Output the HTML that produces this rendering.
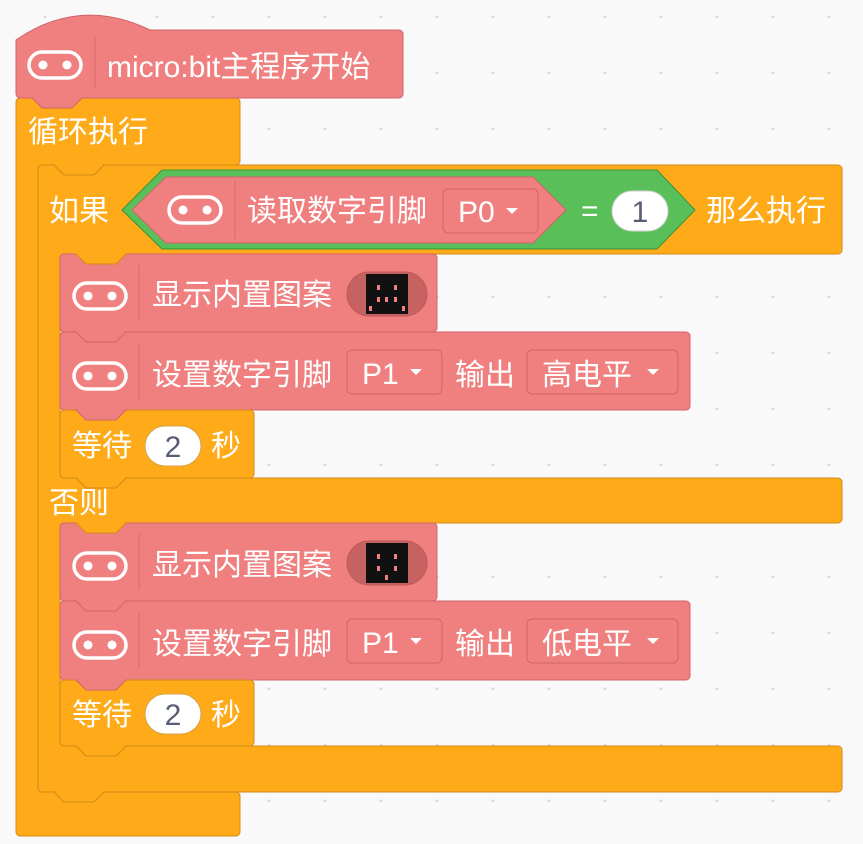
<!DOCTYPE html>
<html><head><meta charset="utf-8"><style>
html,body{margin:0;padding:0;}
body{width:863px;height:844px;overflow:hidden;background:#f9f9f9;
background-image:radial-gradient(circle,#d8d8d8 1.2px,transparent 1.6px);background-size:56px 56px;background-position:129px -11px;}
svg{position:absolute;left:0;top:0;}
text{font-family:"Liberation Sans","Noto Sans CJK SC",sans-serif;font-size:30px;fill:#fff;}
.n{fill:#575e75;font-size:30px;}
</style></head><body>
<svg width="863" height="844" viewBox="0 0 863 844">
<defs>
<g id="ico"><rect x="-26" y="-13" width="52" height="26" rx="13" fill="none" stroke="#fff" stroke-width="3.5"/><circle cx="-12" cy="0" r="4.5" fill="#fff"/><circle cx="12" cy="0" r="4.5" fill="#fff"/></g>
<g id="led"><rect x="-40" y="-22" width="80" height="44" rx="22" fill="#c76262" stroke="#c05a5a"/><rect x="-21" y="-20" width="42" height="40" fill="#111"/></g>
</defs>
<!-- forever -->
<path d="M20 98 H236 a4 4 0 0 1 4 4 V161 a4 4 0 0 1 -4 4 H42 a4 4 0 0 0 -4 4 V788 a4 4 0 0 0 4 4 H236 a4 4 0 0 1 4 4 V832 a4 4 0 0 1 -4 4 H20 a4 4 0 0 1 -4 -4 V102 a4 4 0 0 1 4 -4Z" fill="#ffab19" stroke="#cf8b17"/>
<text x="28" y="142">循环执行</text>
<!-- if -->
<path d="M42 165 H838 a4 4 0 0 1 4 4 V250 a4 4 0 0 1 -4 4 H64 a4 4 0 0 0 -4 4 V474 a4 4 0 0 0 4 4 H838 a4 4 0 0 1 4 4 V519 a4 4 0 0 1 -4 4 H64 a4 4 0 0 0 -4 4 V742 a4 4 0 0 0 4 4 H838 a4 4 0 0 1 4 4 V788 a4 4 0 0 1 -4 4 H42 a4 4 0 0 1 -4 -4 V169 a4 4 0 0 1 4 -4Z" fill="#ffab19" stroke="#cf8b17"/>
<text x="49" y="221">如果</text>
<text x="49" y="513">否则</text>
<text x="706" y="221">那么执行</text>
<!-- green hex -->
<path d="M122 210 L162 170 H657 L695 210 L657 249 H162Z" fill="#59c059" stroke="#389438"/>
<path d="M132 210 L166 177 H533 L566 210 L533 243 H166Z" fill="#f07f7f" stroke="#d0646a"/>
<use href="#ico" x="195" y="210"/><line x1="235" y1="181" x2="235" y2="239" stroke="#d96b6b"/>
<text x="247" y="221">读取数字引脚</text>
<rect x="443" y="189" width="95" height="44" rx="5" fill="#f07f7f" stroke="#d0646a"/>
<text x="458" y="222">P0</text><path d="M506 208 h12 l-6 6z" fill="#fff"/>
<text x="581" y="221">=</text>
<rect x="612" y="191" width="56" height="40" rx="20" fill="#fff" stroke="#d0d0d0"/>
<text class="n" x="640" y="222" text-anchor="middle">1</text>
<!-- hat -->
<path d="M16 40 Q80 -4 150 30 H399 a4 4 0 0 1 4 4 V94 a4 4 0 0 1 -4 4 H20 a4 4 0 0 1 -4 -4Z" fill="#f07f7f" stroke="#d0646a"/>
<use href="#ico" x="55" y="65"/><line x1="95" y1="37" x2="95" y2="88" stroke="#d96b6b"/>
<text x="107" y="77">micro:bit主程序开始</text>
<!-- display 1 -->
<rect x="60" y="254" width="377" height="78" rx="4" fill="#f07f7f" stroke="#d0646a"/>
<use href="#ico" x="100" y="296"/><line x1="139" y1="265" x2="139" y2="321" stroke="#d96b6b"/>
<text x="152" y="305">显示内置图案</text>
<use href="#led" x="387" y="294"/>
<g fill="#f07f7f"><rect x="377" y="285" width="3" height="5"/><rect x="394" y="285" width="3" height="5"/><rect x="377" y="297" width="3" height="5"/><rect x="385" y="297" width="3" height="5"/><rect x="394" y="297" width="3" height="5"/><rect x="369" y="306" width="3" height="5"/><rect x="402" y="306" width="3" height="5"/></g>
<!-- set 1 -->
<rect x="60" y="332" width="630" height="78" rx="4" fill="#f07f7f" stroke="#d0646a"/>
<use href="#ico" x="100" y="376"/><line x1="139" y1="344" x2="139" y2="400" stroke="#d96b6b"/>
<text x="152" y="385">设置数字引脚</text>
<rect x="347" y="350" width="95" height="44" rx="5" fill="#f07f7f" stroke="#d0646a"/>
<text x="362" y="384">P1</text><path d="M410 369 h12 l-6 6z" fill="#fff"/>
<text x="455" y="385">输出</text>
<rect x="527" y="350" width="151" height="44" rx="5" fill="#f07f7f" stroke="#d0646a"/>
<text x="542" y="385">高电平</text><path d="M647 369 h12 l-6 6z" fill="#fff"/>
<!-- wait 1 -->
<rect x="60" y="410" width="194" height="68" rx="4" fill="#ffab19" stroke="#cf8b17"/>
<text x="72" y="456">等待</text>
<rect x="145" y="426" width="56" height="40" rx="20" fill="#fff" stroke="#d9a04a"/>
<text class="n" x="173" y="457" text-anchor="middle">2</text>
<text x="211" y="456">秒</text>
<!-- display 2 -->
<rect x="60" y="523" width="377" height="78" rx="4" fill="#f07f7f" stroke="#d0646a"/>
<use href="#ico" x="100" y="566"/><line x1="139" y1="534" x2="139" y2="590" stroke="#d96b6b"/>
<text x="152" y="575">显示内置图案</text>
<use href="#led" x="387" y="563"/>
<g fill="#f07f7f"><rect x="377" y="554" width="3" height="5"/><rect x="394" y="554" width="3" height="5"/><rect x="377" y="566" width="3" height="5"/><rect x="394" y="566" width="3" height="5"/><rect x="385" y="575" width="3" height="5"/></g>
<!-- set 2 -->
<rect x="60" y="601" width="630" height="79" rx="4" fill="#f07f7f" stroke="#d0646a"/>
<use href="#ico" x="100" y="645"/><line x1="139" y1="613" x2="139" y2="669" stroke="#d96b6b"/>
<text x="152" y="654">设置数字引脚</text>
<rect x="347" y="619" width="95" height="44" rx="5" fill="#f07f7f" stroke="#d0646a"/>
<text x="362" y="653">P1</text><path d="M410 638 h12 l-6 6z" fill="#fff"/>
<text x="455" y="654">输出</text>
<rect x="527" y="619" width="151" height="44" rx="5" fill="#f07f7f" stroke="#d0646a"/>
<text x="542" y="654">低电平</text><path d="M647 638 h12 l-6 6z" fill="#fff"/>
<!-- wait 2 -->
<rect x="60" y="680" width="194" height="66" rx="4" fill="#ffab19" stroke="#cf8b17"/>
<text x="72" y="725">等待</text>
<rect x="145" y="694" width="56" height="40" rx="20" fill="#fff" stroke="#d9a04a"/>
<text class="n" x="173" y="725" text-anchor="middle">2</text>
<text x="211" y="725">秒</text>
<!-- tabs -->
<g stroke-width="1">
<path d="M32 98 L42 108 H72 L82 98Z" fill="#f07f7f" stroke="#d0646a"/><path d="M33 97.5 H81" stroke="#f07f7f" stroke-width="2"/>
<path d="M54 165 L64 175 H94 L104 165Z" fill="#ffab19" stroke="#cf8b17"/><path d="M55 164.5 H103" stroke="#ffab19" stroke-width="2"/>
<path d="M76 254 L86 264 H116 L126 254Z" fill="#ffab19" stroke="#cf8b17"/><path d="M77 253.5 H125" stroke="#ffab19" stroke-width="2"/>
<path d="M76 332 L86 342 H116 L126 332Z" fill="#f07f7f" stroke="#d0646a"/><path d="M77 331.5 H125" stroke="#f07f7f" stroke-width="2"/>
<path d="M76 410 L86 420 H116 L126 410Z" fill="#f07f7f" stroke="#d0646a"/><path d="M77 409.5 H125" stroke="#f07f7f" stroke-width="2"/>
<path d="M76 478 L86 488 H116 L126 478Z" fill="#ffab19" stroke="#cf8b17"/><path d="M77 477.5 H125" stroke="#ffab19" stroke-width="2"/>
<path d="M76 523 L86 533 H116 L126 523Z" fill="#ffab19" stroke="#cf8b17"/><path d="M77 522.5 H125" stroke="#ffab19" stroke-width="2"/>
<path d="M76 601 L86 611 H116 L126 601Z" fill="#f07f7f" stroke="#d0646a"/><path d="M77 600.5 H125" stroke="#f07f7f" stroke-width="2"/>
<path d="M76 680 L86 690 H116 L126 680Z" fill="#f07f7f" stroke="#d0646a"/><path d="M77 679.5 H125" stroke="#f07f7f" stroke-width="2"/>
<path d="M76 746 L86 756 H116 L126 746Z" fill="#ffab19" stroke="#cf8b17"/><path d="M77 745.5 H125" stroke="#ffab19" stroke-width="2"/>
<path d="M54 792 L64 802 H94 L104 792Z" fill="#ffab19" stroke="#cf8b17"/><path d="M55 791.5 H103" stroke="#ffab19" stroke-width="2"/>
</g>
</svg>
</body></html>
